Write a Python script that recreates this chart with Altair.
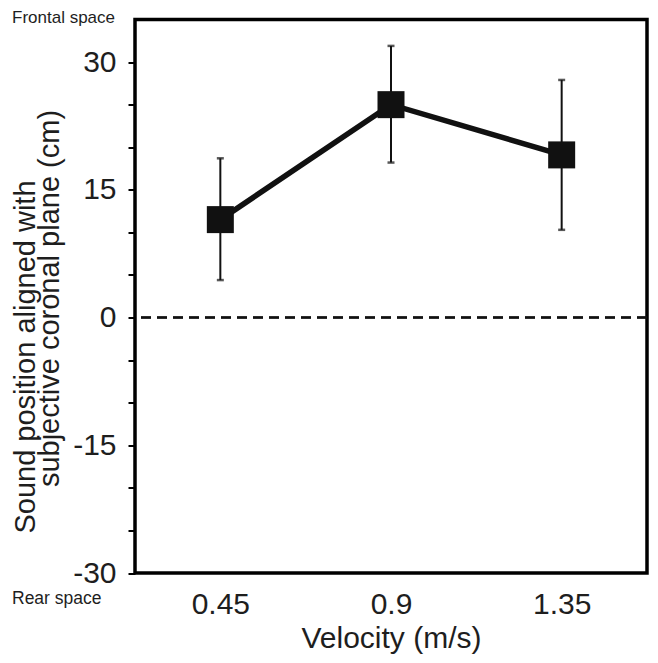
import altair as alt
import pandas as pd

velocity = ["0.45", "0.9", "1.35"]
mean_pos = [11.5, 25.0, 19.1]
err_low = [4.4, 18.2, 10.3]
err_high = [18.7, 31.9, 27.9]
y_ticks = [-30, -25, -20, -15, -10, -5, 0, 5, 10, 15, 20, 25, 30]

df = pd.DataFrame({"v": velocity, "m": mean_pos, "lo": err_low, "hi": err_high})

FONT = "Liberation Sans"
INK = "#111111"
TXT = "#1e1e1e"

x_enc = alt.X(
    "v:N",
    sort=velocity,
    scale=alt.Scale(type="point", padding=0.5),
    axis=alt.Axis(
        title="Velocity (m/s)",
        ticks=False,
        domain=False,
        labelFontSize=30,
        labelPadding=16,
        labelAngle=0,
        labelColor=TXT,
        titleFontSize=30,
        titleFontWeight="normal",
        titleColor=TXT,
        titlePadding=4,
        grid=False,
    ),
)
y_scale = alt.Scale(domain=[-30, 35], nice=False, zero=False)
y_axis = alt.Axis(
    title=None,
    values=y_ticks,
    labelExpr="datum.value % 15 == 0 ? '' + datum.value : ''",
    tickSize=7,
    tickWidth=2,
    tickColor="black",
    domain=False,
    labelFontSize=30,
    labelPadding=12,
    labelColor=TXT,
    grid=False,
)

base = alt.Chart(df)

zero_line = base.mark_rule(color=INK, strokeWidth=2, strokeDash=[10, 6]).encode(
    y=alt.datum(0, scale=y_scale, axis=y_axis)
)
bars = base.mark_rule(color=INK, strokeWidth=2).encode(
    x=x_enc, y=alt.Y("lo:Q", scale=y_scale, axis=y_axis), y2="hi:Q"
)
cap_lo = base.mark_tick(color=INK, size=7, thickness=2.5).encode(
    x=x_enc, y=alt.Y("lo:Q", scale=y_scale)
)
cap_hi = base.mark_tick(color=INK, size=7, thickness=2.5).encode(
    x=x_enc, y=alt.Y("hi:Q", scale=y_scale)
)
line = base.mark_line(color=INK, strokeWidth=5.5).encode(
    x=x_enc, y=alt.Y("m:Q", scale=y_scale)
)
squares = base.mark_square(color=INK, size=729, opacity=1).encode(
    x=x_enc, y=alt.Y("m:Q", scale=y_scale)
)

def label(text, x, y, size, angle=0, align="left"):
    return alt.Chart(pd.DataFrame({"t": [text]})).mark_text(
        font=FONT, fontSize=size, color=TXT, angle=angle, align=align, baseline="middle"
    ).encode(text="t:N", x=alt.value(x), y=alt.value(y))

frontal = label("Frontal space", -123, -1.5, 17)
rear = label("Rear space", -123, 579, 17.5)
ytitle1 = label("Sound position aligned with", -109.5, 337.5, 29, angle=270, align="center")
ytitle2 = label("subjective coronal plane (cm)", -85, 279, 29, angle=270, align="center")

chart = alt.layer(
    zero_line, bars, cap_lo, cap_hi, line, squares, frontal, rear, ytitle1, ytitle2
).properties(
    width=512,
    height=553.5,
    padding={"left": 127, "top": 11.5, "right": 3, "bottom": 84},
    autosize=alt.AutoSizeParams(type="none"),
).configure(
    font=FONT
).configure_view(
    stroke="black", strokeWidth=3.5
)

chart.save("out.html", embed_options={"renderer": "svg", "actions": False})
